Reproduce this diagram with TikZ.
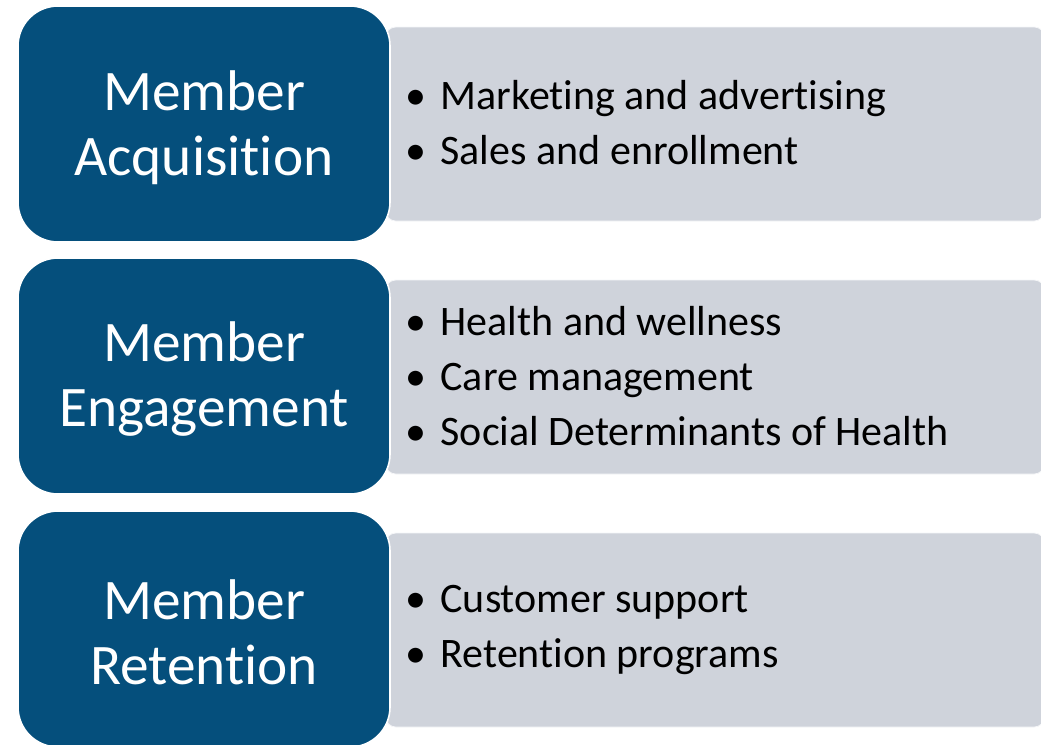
\documentclass[tikz,border=0pt]{standalone}
\usepackage{fontspec}
\setmainfont{Carlito}[Ligatures=NoCommon]

\definecolor{stageblue}{RGB}{5,79,124}
\definecolor{listgray}{RGB}{207,211,219}

\tikzset{
  stage/.style={rectangle, rounded corners=30pt, fill=stageblue, draw=white,
    line width=1.2pt, minimum width=279pt, minimum height=177pt},
  stagetitle/.style={text=white, align=center,
    font=\fontsize{43}{48.75}\selectfont},
  itembox/.style={rectangle, rounded corners=7.5pt, fill=listgray,
    draw=white!80!listgray, line width=0.6pt,
    minimum width=494pt, minimum height=145.5pt},
  itemlist/.style={anchor=west, inner sep=0pt, align=left,
    font=\fontsize{31.5}{41.25}\selectfont}
}
\newcommand{\bul}[1]{\makebox[26.5pt][l]{\textbullet}#1}

\begin{document}
\begin{tikzpicture}[x=0.75pt,y=-0.75pt]
\clip (0,0) rectangle (1041,744);

% grey panels sit behind the blue stages
\node[itembox] (acqbox) at (715,124) {};
\node[itembox] (engbox) at (715,377) {};
\node[itembox] (retbox) at (715,630) {};

% blue stages
\node[stage] (acq) at (204,124) {};
\node[stage] (eng) at (204,376) {};
\node[stage] (ret) at (204,629) {};

% stage titles
\node[stagetitle] (acqtitle) at ([yshift=-2.5pt]acq.center) {Member\\Acquisition};
\node[stagetitle] (engtitle) at ([yshift=-2.5pt]eng.center) {Member\\Engagement};
\node[stagetitle] (rettitle) at ([yshift=-2.5pt]ret.center) {Member\\Retention};

% bullet lists
\node[itemlist] (acqlist) at (405,123) {\bul{Marketing and advertising}\\\bul{Sales and enrollment}};
\node[itemlist] (englist) at (405,376) {\bul{Health and wellness}\\\bul{Care management}\\\bul{Social Determinants of Health}};
\node[itemlist] (retlist) at (405,630) {\bul{Customer support}\\\bul{Retention programs}};

\end{tikzpicture}
\end{document}
